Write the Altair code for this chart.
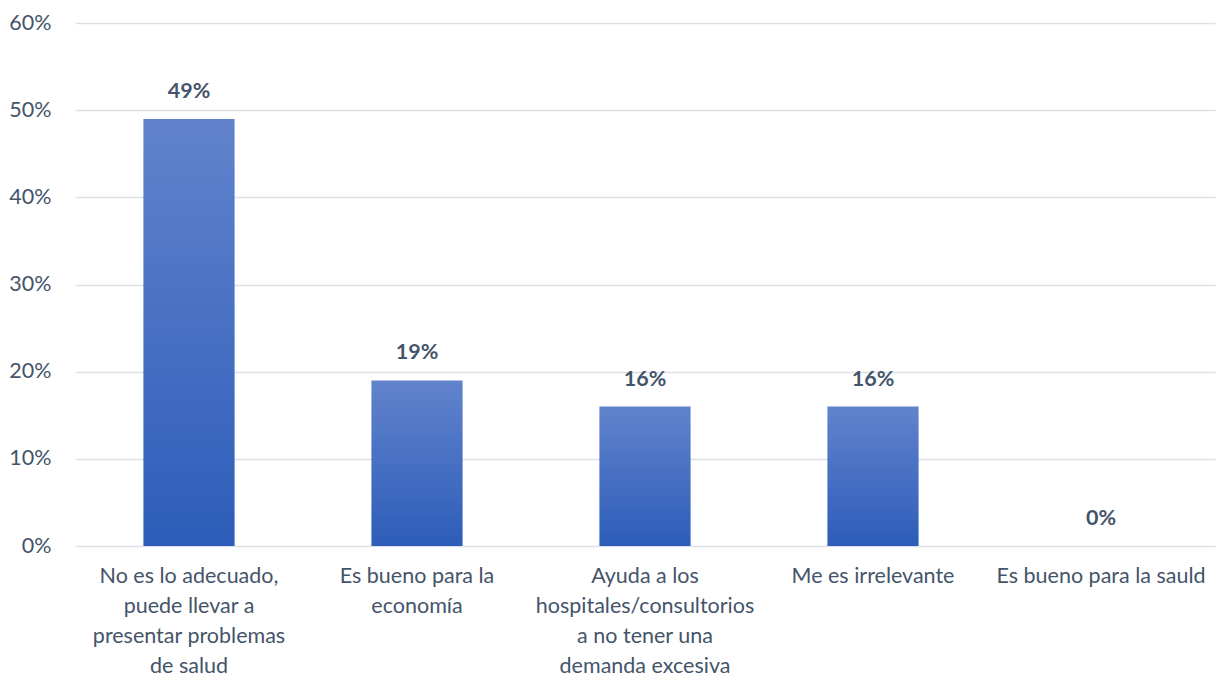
import altair as alt
import pandas as pd

categories = [
    "No es lo adecuado, puede llevar a presentar problemas de salud",
    "Es bueno para la economía",
    "Ayuda a los hospitales/consultorios a no tener una demanda excesiva",
    "Me es irrelevante",
    "Es bueno para la sauld",
]
label_lines = [
    "No es lo adecuado,\npuede llevar a\npresentar problemas\nde salud",
    "Es bueno para la\neconomía",
    "Ayuda a los\nhospitales/consultorios\na no tener una\ndemanda excesiva",
    "Me es irrelevante",
    "Es bueno para la sauld",
]
values = [0.49, 0.19, 0.16, 0.16, 0.0]

df = pd.DataFrame({"cat": label_lines, "full": categories, "value": values})

FONT = "Lato"
TEXT = "#44546A"

x = alt.X("cat:N", sort=label_lines, title=None,
          scale=alt.Scale(paddingInner=0.6, paddingOuter=0.3),
          axis=alt.Axis(labelAngle=0, labelExpr="split(datum.label, '\\n')",
                        labelFontSize=21.5, labelFont=FONT, labelColor=TEXT,
                        labelLineHeight=30, labelPadding=19, ticks=False,
                        labelLimit=0, domain=False, grid=False,
                        labelBaseline="top"))
y = alt.Y("value:Q", title=None,
          scale=alt.Scale(domain=[0, 0.6]),
          axis=alt.Axis(format=".0%", values=[0, 0.1, 0.2, 0.3, 0.4, 0.5, 0.6],
                        labelFontSize=21.5, labelFont=FONT, labelColor=TEXT,
                        labelPadding=24, ticks=False, domain=False,
                        grid=True, gridColor="#DDE1E7", gridWidth=1.5))

bars = alt.Chart(df).mark_bar(
    color=alt.Gradient(
        gradient="linear", x1=0, y1=0, x2=0, y2=1,
        stops=[alt.GradientStop(color="#6183CC", offset=0),
               alt.GradientStop(color="#2D5DB9", offset=1)]
    )
).encode(x=x, y=y)

labels = alt.Chart(df).mark_text(
    font=FONT, fontSize=21.5, fontWeight="bold", color=TEXT, dy=-27
).encode(x=alt.X("cat:N", sort=label_lines), y="value:Q",
         text=alt.Text("value:Q", format=".0%"))

chart = (bars + labels).properties(
    width=1140, height=523,
    autosize=alt.AutoSizeParams(type="none"),
    padding={"left": 75, "top": 23, "right": 9, "bottom": 131},
).configure_view(stroke=None)

chart.save("out.html", embed_options={"renderer": "svg", "actions": False})
